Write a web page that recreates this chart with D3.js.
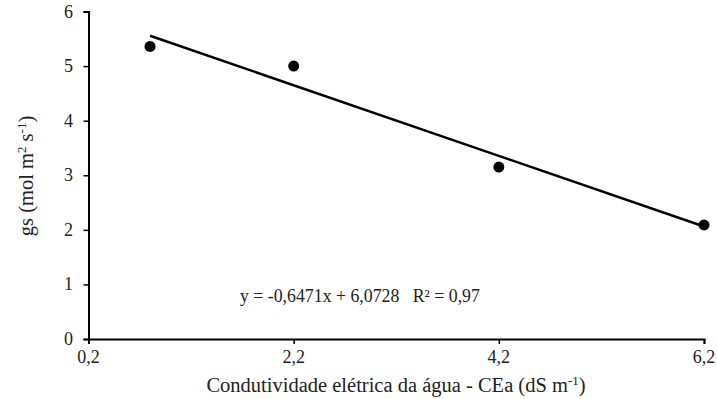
<!DOCTYPE html>
<html><head><meta charset="utf-8">
<script src="https://cdn.jsdelivr.net/npm/d3@7"></script>
<style>body{margin:0;background:#fff}svg{display:block}text{font-family:"Liberation Serif","Times New Roman",serif;fill:#222}</style>
</head><body><svg id="c" width="717" height="399"></svg>
<script>
const xValues = [0.8, 2.2, 4.2, 6.2];
const gsValues = [5.36, 5.0, 3.15, 2.09];
const xTicks = [0.2, 2.2, 4.2, 6.2];
const yTicks = [0, 1, 2, 3, 4, 5, 6];
const slope = -0.6471, intercept = 6.0728;
const eqText = "y = -0,6471x + 6,0728   R² = 0,97";

const svg = d3.select("#c");
const x = d3.scaleLinear().domain([0.2, 6.2]).range([88.5, 704]);
const y = d3.scaleLinear().domain([0, 6]).range([339, 11.5]);
const fmt = d => d.toFixed(1).replace(".", ",");

const xa = svg.append("g").attr("transform", "translate(0,339)")
  .call(d3.axisBottom(x).tickValues(xTicks).tickFormat("").tickSizeOuter(0).tickSize(5));
const ya = svg.append("g").attr("transform", "translate(88.5,0)")
  .call(d3.axisLeft(y).tickValues(yTicks).tickFormat("").tickSizeOuter(0).tickSize(5));
[xa, ya].forEach(a => {
  a.select(".domain").attr("stroke", "#000").attr("stroke-width", 2);
  a.selectAll(".tick line").attr("stroke", "#000").attr("stroke-width", 1.5);
});

svg.append("g").selectAll("text").data(xTicks).enter().append("text")
  .attr("x", d => x(d)).attr("y", 363).attr("text-anchor", "middle")
  .style("font-size", "18px").text(fmt);
svg.append("g").selectAll("text").data(yTicks).enter().append("text")
  .attr("x", 73).attr("y", d => y(d) + 6).attr("text-anchor", "end")
  .style("font-size", "18px").text(d => d);

svg.append("line")
  .attr("x1", x(0.8)).attr("y1", y(slope * 0.8 + intercept))
  .attr("x2", x(6.2)).attr("y2", y(slope * 6.2 + intercept))
  .attr("stroke", "#000").attr("stroke-width", 2.5);

svg.selectAll("circle.p").data(xValues).enter().append("circle")
  .attr("cx", (d) => x(d)).attr("cy", (d, i) => y(gsValues[i])).attr("r", 5.5).attr("fill", "#000");

svg.append("text").attr("x", 240).attr("y", 302).style("font-size", "17.8px").attr("xml:space", "preserve").text(eqText);

const xl = svg.append("text").attr("x", 396).attr("y", 392).attr("text-anchor", "middle").style("font-size", "20.5px");
xl.append("tspan").text("Condutividade elétrica da água - CEa (dS m");
xl.append("tspan").style("font-size", "13px").attr("dy", -7).text("-1");
xl.append("tspan").attr("dy", 7).text(")");

const yl = svg.append("text").attr("transform", "translate(33,176) rotate(-90)").attr("text-anchor", "middle").style("font-size", "20.5px");
yl.append("tspan").text("gs (mol m");
yl.append("tspan").style("font-size", "13px").attr("dy", -7).text("2");
yl.append("tspan").attr("dy", 7).text(" s");
yl.append("tspan").style("font-size", "13px").attr("dy", -7).text("-1");
yl.append("tspan").attr("dy", 7).text(")");
</script></body></html>
